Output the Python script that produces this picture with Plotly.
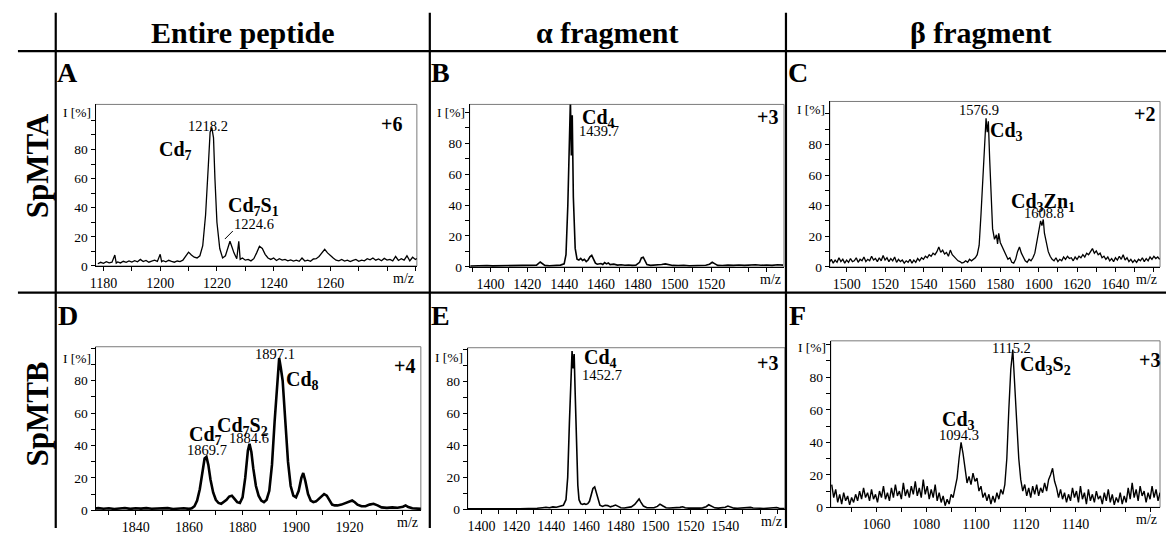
import plotly.graph_objects as go

W, H = 1166, 536
SERIF = "Liberation Serif, Times New Roman, serif"

# ---------------- DATA (m/z, intensity %) ----------------
A_spec = [(1178,1.5),(1179,2.5),(1180,1.8),(1181,3.0),(1182,2.2),(1183,2.6),(1184,7.5),(1184.5,2.0),(1185,2.8),(1186,2.1),
          (1187,3.2),(1188,2.5),(1189,3.5),(1190,2.7),(1191,3.6),(1192,2.9),(1193,4.5),(1194,3.0),(1195,3.8),(1196,2.6),
          (1197,3.3),(1198,4.0),(1199,3.1),(1200,8.0),(1200.5,3.0),(1201,3.6),(1202,2.8),(1203,3.9),(1204,3.2),(1205,2.6),
          (1206,3.4),(1207,3.0),(1208,4.0),(1209,6.5),(1210,9.5),(1211,7.5),(1212,6.0),(1213,5.5),(1214,7.0),(1215,14),
          (1216,35),(1217,70),(1217.6,92),(1218.2,95),(1218.8,88),(1219.3,60),(1220,30),(1221,12),(1222,5.5),(1223,7),
          (1224,14),(1224.6,17),(1225.3,13),(1226,9),(1227,5),(1227.7,17),(1228.2,4.5),(1229,5.5),(1230,4.0),(1231,4.5),
          (1232,3.5),(1233,5),(1234,9),(1235,13.5),(1236,12),(1237,8),(1238,5.5),(1239,4.5),(1240,5.5),(1241,3.8),
          (1242,5),(1243,4),(1244,4.5),(1245,3.5),(1246,4.2),(1247,3.3),(1248,4.0),(1249,3.2),(1250,5.5),(1251,3.4),
          (1252,4.0),(1253,3.2),(1254,4.8),(1255,5.0),(1256,6.5),(1257,9),(1258,11.5),(1259,9),(1260,7),(1261,5.5),
          (1262,4),(1263,3.5),(1264,4.5),(1265,3.4),(1266,4.0),(1267,3.0),(1268,3.8),(1269,4.5),(1270,3.2),(1271,4.0),
          (1272,3.5),(1273,5.0),(1274,4.2),(1275,5.5),(1276,4.0),(1277,4.8),(1278,3.6),(1279,5.2),(1280,4.0),(1281,4.5),
          (1282,3.5),(1283,6.5),(1284,3.8),(1285,5.0),(1286,4.0),(1287,7.0),(1288,3.5),(1289,6.0),(1290,4.5),(1291,5.5)]

B_spec = [(1389,0.6),(1392,0.8),(1395,0.6),(1398,0.9),(1401,0.7),(1404,0.8),(1407,0.6),(1410,0.9),(1413,0.8),(1416,0.7),
          (1419,1.0),(1422,0.9),(1425,1.2),(1427,3.2),(1428,2.4),(1429.5,1.0),(1432,0.8),(1435,0.9),(1438,1.2),(1440,2.0),
          (1441,8),(1442,40),(1442.8,90),(1443.4,108),(1443.9,72),(1444.4,98),(1445,45),(1446,12),(1447,5),(1448,4.5),
          (1449,5.5),(1450,4.2),(1451,5.0),(1452,3.5),(1453,4.5),(1454,6.5),(1455,7.5),(1456,5),(1457,2.5),(1458,1.8),
          (1460,2.2),(1461,1.6),(1462,2.8),(1463,2.0),(1464,2.6),(1465,1.5),(1467,1.8),(1469,1.2),(1471,1.4),(1473,1.1),
          (1475,1.3),(1477,1.0),(1479,1.2),(1481,3.0),(1482,5.8),(1483,6.3),(1484,3.5),(1485,1.5),(1487,1.0),(1489,1.2),
          (1491,1.0),(1493,1.6),(1495,2.0),(1497,1.3),(1499,1.0),(1502,0.9),(1505,1.1),(1508,0.8),(1511,1.0),(1514,0.9),
          (1517,1.1),(1519,1.8),(1520.5,3.0),(1522,2.0),(1523.5,1.0),(1526,0.9),(1529,1.2),(1532,1.0),(1535,1.3),(1538,1.0),
          (1541,1.2),(1544,1.4),(1547,1.1),(1550,1.3),(1553,1.0),(1556,1.4),(1559,1.2)]

C_spec = [(1491,3),(1492,5),(1493,2.5),(1494,4.5),(1495,3),(1496,6),(1497,3.5),(1498,5),(1499,2.5),(1500,4.5),
          (1501,3),(1502,5.5),(1503,3.5),(1504,4),(1505,6),(1506,3),(1507,5),(1508,4),(1509,6.5),(1510,3.5),
          (1511,5),(1512,4),(1513,7),(1514,4.5),(1515,5.5),(1516,3.5),(1517,6),(1518,4),(1519,7.5),(1520,4.5),
          (1521,6),(1522,3.5),(1523,5.5),(1524,4),(1525,6.5),(1526,3),(1527,5),(1528,3.5),(1529,4.5),(1530,2.5),
          (1531,4),(1532,3),(1533,5),(1534,2.5),(1535,4.5),(1536,3),(1537,5.5),(1538,4),(1539,6),(1540,5),
          (1541,7),(1542,6),(1543,8),(1544,7),(1545,9),(1546,8),(1547,10),(1548,13),(1549,9.5),(1550,11),
          (1551,8.5),(1552,9.5),(1553,7),(1554,11),(1555,8),(1556,6.5),(1557,5),(1558,4),(1559,3.5),(1560,2.5),
          (1561,3),(1562,4),(1563,3),(1564,5),(1565,4),(1566,5),(1567,6),(1568,8),(1569,14),(1570,35),
          (1571,62),(1572,85),(1572.6,97),(1573.2,88),(1573.8,95),(1574.5,70),(1575.2,45),(1576,25),(1577,18),(1578,21),
          (1578.6,15),(1579.2,22),(1580,16),(1581,13),(1582,10),(1583,8),(1584,5),(1585,6),(1586,3),(1587,2.5),
          (1588,5),(1589,10),(1590,13),(1591,9),(1592,6),(1593,4),(1594,3),(1595,5),(1596,4),(1597,6),
          (1598,9),(1599,16),(1600,24),(1601,30),(1601.7,27),(1602.4,31),(1603,22),(1604,15),(1605,10),(1606,7),
          (1607,5),(1608,4),(1609,6),(1610,3.5),(1611,5),(1612,4),(1613,6.5),(1614,5),(1615,7),(1616,5.5),
          (1617,6),(1618,4),(1619,6.5),(1620,5),(1621,7),(1622,6),(1623,8),(1624,6.5),(1625,9),(1626,8),
          (1627,10),(1628,12),(1629,9),(1630,10.5),(1631,8),(1632,9),(1633,6),(1634,7),(1635,5),(1636,6.5),
          (1637,4),(1638,5.5),(1639,3.5),(1640,6),(1641,4.5),(1642,7),(1643,5),(1644,8),(1645,4.5),(1646,6),
          (1647,3.5),(1648,5),(1649,3),(1650,4.5),(1651,3),(1652,5),(1653,4),(1654,6),(1655,3.5),(1656,5.5),
          (1657,4),(1658,6.5),(1659,5),(1660,7),(1661,5.5),(1662,6.5),(1663,5)]

D_spec = [(1824,1.0),(1826,1.3),(1828,0.9),(1830,1.2),(1832,0.8),(1834,1.1),(1836,1.4),(1838,0.9),(1840,1.2),(1842,1.0),
          (1844,1.3),(1846,0.9),(1848,1.1),(1850,1.0),(1852,1.3),(1854,0.8),(1856,1.0),(1858,1.2),(1860,0.9),(1861,1.2),
          (1862,2.5),(1863,6),(1864,13),(1865,24),(1865.8,32),(1866.5,33),(1867.2,28),(1868,19),(1869,11),(1870,6.5),
          (1871,4.5),(1872,4),(1873,5),(1874,6.5),(1875,8.5),(1876,9),(1877,7),(1878,5),(1879,4.5),(1880,8),
          (1881,20),(1882,37),(1882.6,41),(1883.3,36),(1884,26),(1885,15),(1886,9),(1887,6),(1888,5),(1889,6.5),
          (1890,12),(1891,28),(1892,55),(1893,80),(1893.7,94),(1894.3,88),(1895,80),(1896,55),(1897,30),(1898,15),
          (1899,9),(1900,8),(1901,12),(1902,20),(1902.7,23),(1903.5,18),(1904.5,10),(1905.5,6),(1906.5,5),(1907.5,5.5),
          (1908.5,7),(1909.5,9),(1910.5,10),(1911.5,9),(1912.5,6),(1913.5,3.5),(1914.5,3),(1915.5,3),(1917,3.5),(1918.5,4.5),
          (1920,5.5),(1921,6),(1922,5),(1923,3.5),(1924.5,2.5),(1926,2.5),(1927.5,3.5),(1929,4),(1930.5,3),(1932,1.8),
          (1934,1.5),(1936,1.8),(1938,1.6),(1940,2.2),(1941,3),(1942,2),(1943.5,1.2),(1945,1.0),(1947.5,0.8)]

E_spec = [(1392,0.3),(1398,0.2),(1404,0.3),(1410,0.2),(1416,0.3),(1422,0.3),(1428,0.4),(1432,0.6),(1435,1.0),(1437,1.3),
          (1439,1.0),(1441,1.5),(1443,1.3),(1445,1.8),(1447,2.5),(1448.5,6),(1449.5,20),(1450.5,55),(1451.3,85),(1452,99),
          (1452.6,88),(1453.2,97),(1453.8,72),(1454.5,40),(1455.3,15),(1456,6),(1457,3.5),(1458,3),(1459,3.5),(1460,3),
          (1461,3.5),(1462,5),(1463,9),(1464,13),(1465,14),(1466,10),(1467,5),(1468,2.5),(1469.5,1.8),(1471,2.5),
          (1472.5,2.3),(1474,1.5),(1475.5,2.0),(1477,2.6),(1478.5,1.8),(1480,1.0),(1482,0.8),(1484,1.0),(1486,1.5),(1488,3),
          (1489.5,5.5),(1490.5,6.5),(1491.5,4.5),(1493,2),(1495,1.0),(1497,0.8),(1499,1.0),(1501,1.8),(1502.5,3.2),(1504,2.2),
          (1506,1.0),(1508,0.8),(1510,0.9),(1512,0.8),(1514,1.2),(1515.5,1.6),(1517,1.0),(1519,0.7),(1521,0.6),(1523,0.8),
          (1525,0.7),(1527,0.9),(1529,1.6),(1530.5,2.8),(1532,2.0),(1534,0.9),(1536,0.7),(1538,0.8),(1540,1.3),(1541.5,2.0),
          (1543,1.5),(1545,0.7),(1547,0.6),(1549,0.7),(1551,0.6),(1553,0.9),(1554.5,1.2),(1556,0.8),(1558,0.5),(1560,0.6),
          (1562,0.5),(1564,0.6),(1566,0.5),(1568,0.8),(1569.5,1.1),(1571,0.6),(1574,0.5)]

F_spec = [(1042.0,14),(1042.8,6),(1043.6,11),(1044.4,3),(1045.2,8),(1046.0,2),(1046.8,9),(1047.6,4),(1048.4,7),(1049.2,1.5),
          (1050.0,6),(1050.8,3),(1051.6,8),(1052.4,4),(1053.2,10),(1054.0,5),(1054.8,12),(1055.6,6),(1056.4,9),(1057.2,4),
          (1058.0,11),(1058.8,5),(1059.6,8),(1060.4,3),(1061.2,10),(1062.0,6),(1062.8,13),(1063.6,5),(1064.4,9),(1065.2,4),
          (1066.0,12),(1066.8,6),(1067.6,14),(1068.4,7),(1069.2,10),(1070.0,5),(1070.8,15),(1071.6,7),(1072.4,11),(1073.2,6),
          (1074.0,13),(1074.8,8),(1075.6,16),(1076.4,7),(1077.2,12),(1078.0,6),(1078.8,17),(1079.6,8),(1080.4,13),(1081.2,5),
          (1082.0,11),(1082.8,6),(1083.6,14),(1084.4,4),(1085.2,9),(1086.0,3),(1086.8,7),(1087.6,1),(1088.4,5),(1089.2,2),
          (1090.0,8),(1090.8,6),(1091.6,12),(1092.4,18),(1093.2,30),(1094.0,40),(1094.8,33),(1095.6,22),(1096.4,15),(1097.2,19),
          (1098.0,14),(1098.8,21),(1099.6,16),(1100.4,18),(1101.2,10),(1102.0,13),(1102.8,6),(1103.6,9),(1104.4,4),(1105.2,8),
          (1106.0,2),(1106.8,7),(1107.6,3),(1108.4,9),(1109.2,5),(1110.0,11),(1110.8,8),(1111.6,14),(1112.4,30),(1113.2,60),
          (1114.0,85),(1114.8,97),(1115.6,78),(1116.4,52),(1117.2,30),(1118.0,17),(1118.8,10),(1119.6,14),(1120.4,7),(1121.2,12),
          (1122.0,6),(1122.8,13),(1123.6,8),(1124.4,14),(1125.2,7),(1126.0,12),(1126.8,9),(1127.6,15),(1128.4,10),(1129.2,17),
          (1130.0,20),(1130.8,24),(1131.6,16),(1132.4,12),(1133.2,6),(1134.0,11),(1134.8,5),(1135.6,9),(1136.4,3),(1137.2,8),
          (1138.0,4),(1138.8,12),(1139.6,6),(1140.4,10),(1141.2,3),(1142.0,13),(1142.8,5),(1143.6,9),(1144.4,2),(1145.2,11),
          (1146.0,4),(1146.8,8),(1147.6,3),(1148.4,10),(1149.2,5),(1150.0,7),(1150.8,2),(1151.6,9),(1152.4,4),(1153.2,11),
          (1154.0,3),(1154.8,8),(1155.6,1.5),(1156.4,6),(1157.2,3),(1158.0,9),(1158.8,2),(1159.6,7),(1160.4,3),(1161.2,12),
          (1162.0,5),(1162.8,15),(1163.6,6),(1164.4,11),(1165.2,4),(1166.0,13),(1166.8,7),(1167.6,10),(1168.4,3),(1169.2,9),
          (1170.0,5),(1170.8,13),(1171.6,6),(1172.4,11),(1173.2,4),(1174.0,9)]

col_titles = ["Entire peptide", "\u03b1 fragment", "\u03b2 fragment"]
row_titles = ["SpMTA", "SpMTB"]
panel_letters = ["A", "B", "C", "D", "E", "F"]
charges = ["+6", "+3", "+2", "+4", "+3", "+3"]
y_major = [0, 20, 40, 60, 80]
y_minor = [10, 30, 50, 70, 90, 100]

# per-panel x ticks: (labelled ticks, unlabelled ticks)
x_ticks = {
    "A": ([1180, 1200, 1220, 1240, 1260], [1190, 1210, 1230, 1250, 1270, 1280, 1290]),
    "B": ([1400, 1420, 1440, 1460, 1480, 1500, 1520], [1390, 1410, 1430, 1450, 1470, 1490, 1510, 1530, 1540, 1550]),
    "C": ([1500, 1520, 1540, 1560, 1580, 1600, 1620, 1640], [1510, 1530, 1550, 1570, 1590, 1610, 1630, 1650, 1660]),
    "D": ([1840, 1860, 1880, 1900, 1920], [1830, 1850, 1870, 1890, 1910, 1930, 1940]),
    "E": ([1400, 1420, 1440, 1460, 1480, 1500, 1520, 1540], [1410, 1430, 1450, 1470, 1490, 1510, 1530, 1550, 1560, 1570]),
    "F": ([1060, 1080, 1100, 1120, 1140], [1050, 1070, 1090, 1110, 1130, 1150, 1160, 1170]),
}

# peak labels: (text, m/z, intensity, bold)
peak_labels = {
    "A": [("1218.2", 1216.8, 96.5, False), ("Cd<sub>7</sub>", 1205.3, 79, True),
          ("Cd<sub>7</sub>S<sub>1</sub>", 1233, 41, True), ("1224.6", 1233, 29, False)],
    "B": [("Cd<sub>4</sub>", 1458.4, 96, True), ("1439.7", 1458.9, 87.6, False)],
    "C": [("1576.9", 1568.9, 102.5, False), ("Cd<sub>3</sub>", 1583.4, 88.5, True),
          ("Cd<sub>3</sub>Zn<sub>1</sub>", 1602.1, 42, True), ("1608.8", 1602.6, 35.5, False)],
    "D": [("1897.1", 1892, 96.5, False), ("Cd<sub>8</sub>", 1902.5, 80, True),
          ("Cd<sub>7</sub>S<sub>2</sub>", 1880.1, 52, True), ("1884.6", 1882.4, 44.6, False),
          ("Cd<sub>7</sub>", 1866, 46, True), ("1869.7", 1866.8, 37.3, False)],
    "E": [("Cd<sub>4</sub>", 1468.6, 94, True), ("1452.7", 1469.1, 83.7, False)],
    "F": [("1115.2", 1114.4, 98.2, False), ("Cd<sub>3</sub>S<sub>2</sub>", 1128, 87, True),
          ("Cd<sub>3</sub>", 1092.8, 53.5, True), ("1094.3", 1093.2, 44.2, False)],
}
charge_pos = {"A": (1281.4, 97.6), "B": (1550.8, 97), "C": (1654.9, 100),
              "D": (1940.4, 89.2), "E": (1564, 91.7), "F": (1169.6, 90.9)}
ipct_y = {"A": 105.5, "B": 100, "C": 103, "D": 94, "E": 95, "F": 98}

# ---------------- layout geometry (pixels) ----------------
def px(x):
    return x / W

def py(y):
    return 1 - y / H

boxes = {  # left, right, top, bottom(y=0)
    "A": (90, 413, 106, 270), "B": (466, 782, 106, 271), "C": (828, 1160, 103, 271),
    "D": (90, 417, 352, 518), "E": (464, 783, 353, 517), "F": (829, 1160, 346, 515),
}
x_ranges = {"A": (1177.2, 1290.5), "B": (1388.6, 1559.5), "C": (1491.2, 1663.2),
            "D": (1825, 1946.7), "E": (1392, 1574.3), "F": (1041.6, 1174)}
y_ranges = {"A": (0, 111), "B": (0, 105), "C": (0, 108), "D": (0, 101), "E": (0, 101), "F": (0, 102.4)}
line_w = {"A": 1.3, "B": 1.6, "C": 1.3, "D": 2.6, "E": 1.6, "F": 1.4}
specs = {"A": A_spec, "B": B_spec, "C": C_spec, "D": D_spec, "E": E_spec, "F": F_spec}
letter_pos = {"A": (62, 74), "B": (437, 74), "C": (796, 74), "D": (62, 320), "E": (437, 320), "F": (796, 320)}

fig = go.Figure()
layout = dict(width=W, height=H, margin=dict(l=0, r=0, t=0, b=0), paper_bgcolor="white",
              plot_bgcolor="white", showlegend=False, font=dict(family=SERIF, color="black"))
annotations = []
shapes = []

for i, key in enumerate(panel_letters):
    n = i + 1
    xa = "x" if n == 1 else f"x{n}"
    ya = "y" if n == 1 else f"y{n}"
    xname = "xaxis" if n == 1 else f"xaxis{n}"
    yname = "yaxis" if n == 1 else f"yaxis{n}"
    l, r, t, b = boxes[key]
    lab, unl = x_ticks[key]
    layout[xname] = dict(domain=[px(l), px(r)], anchor=ya, range=list(x_ranges[key]),
                         tickmode="array", tickvals=lab, ticktext=[str(v) for v in lab],
                         ticks="outside", ticklen=4, tickwidth=1, tickcolor="black",
                         minor=dict(tickmode="array", tickvals=unl, ticks="outside", ticklen=4,
                                    tickwidth=1, tickcolor="black", showgrid=False),
                         showline=True, linecolor="black", linewidth=1, showgrid=False, zeroline=False,
                         tickfont=dict(family=SERIF, size=14, color="black"), fixedrange=True)
    layout[yname] = dict(domain=[py(b), py(t)], anchor=xa, range=list(y_ranges[key]),
                         tickmode="array", tickvals=y_major, ticktext=[str(v) for v in y_major],
                         ticks="outside", ticklen=4, tickwidth=1, tickcolor="black",
                         minor=dict(tickmode="array", tickvals=y_minor, ticks="outside", ticklen=4,
                                    tickwidth=1, tickcolor="black", showgrid=False),
                         showline=True, linecolor="black", linewidth=1, showgrid=False, zeroline=False,
                         tickfont=dict(family=SERIF, size=13.5, color="black"), fixedrange=True)
    spec = specs[key]
    fig.add_trace(go.Scatter(x=[p[0] for p in spec], y=[p[1] for p in spec], mode="lines",
                             line=dict(color="black", width=line_w[key]), xaxis=xa, yaxis=ya,
                             hoverinfo="skip"))
    shapes.append(dict(type="rect", xref=f"{xa} domain", yref=f"{ya} domain", x0=0, x1=1, y0=0, y1=1,
                       line=dict(color="#7a7a7a", width=1), layer="below"))
    for text, xv, yv, bold in peak_labels[key]:
        annotations.append(dict(xref=xa, yref=ya, x=xv, y=yv, text=f"<b>{text}</b>" if bold else text,
                                showarrow=False, xanchor="center", yanchor="middle",
                                font=dict(family=SERIF, size=20 if bold else 14.5, color="black")))
    cx, cy = charge_pos[key]
    annotations.append(dict(xref=xa, yref=ya, x=cx, y=cy, text=f"<b>{charges[i]}</b>", showarrow=False,
                            xanchor="center", yanchor="middle", font=dict(family=SERIF, size=20, color="black")))
    annotations.append(dict(xref=f"{xa} domain", yref=ya, x=0, y=ipct_y[key], text="I [%]", showarrow=False,
                            xanchor="right", yanchor="middle", xshift=-3,
                            font=dict(family=SERIF, size=13.5, color="black")))
    annotations.append(dict(xref=f"{xa} domain", yref=f"{ya} domain", x=1, y=0, text="m/z", showarrow=False,
                            xanchor="right", yanchor="top", yshift=-3, xshift=-1,
                            font=dict(family=SERIF, size=14, color="black")))
    lx, ly = letter_pos[key]
    annotations.append(dict(xref="paper", yref="paper", x=px(lx), y=py(ly), text=f"<b>{key}</b>",
                            showarrow=False, xanchor="center", yanchor="middle",
                            font=dict(family=SERIF, size=28, color="black")))

shapes.append(dict(type="line", xref="x", yref="y", x0=1222.8, y0=18.5, x1=1225.6, y1=24,
                   line=dict(color="black", width=1)))

for text, cxp in zip(col_titles, [238, 605, 980]):
    annotations.append(dict(xref="paper", yref="paper", x=px(cxp), y=py(33), text=f"<b>{text}</b>",
                            showarrow=False, xanchor="center", yanchor="middle",
                            font=dict(family=SERIF, size=30, color="black")))
for text, cyp in zip(row_titles, [168, 420]):
    annotations.append(dict(xref="paper", yref="paper", x=px(32), y=py(cyp), text=f"<b>{text}</b>",
                            showarrow=False, xanchor="center", yanchor="middle", textangle=-90,
                            font=dict(family=SERIF, size=31, color="black")))

grid = [(50, 13, 50, 536), (426, 13, 426, 536), (784, 13, 784, 536), (12, 52, 1166, 52), (12, 297, 1166, 297)]
for x0, y0, x1, y1 in grid:
    shapes.append(dict(type="line", xref="paper", yref="paper", x0=px(x0), y0=py(y0), x1=px(x1), y1=py(y1),
                       line=dict(color="black", width=2.2)))

layout["annotations"] = annotations
layout["shapes"] = shapes
fig.update_layout(**layout)
fig.write_html("out.html", config={"staticPlot": True},
               post_script="document.body.style.margin='0';document.body.style.overflow='hidden';")
